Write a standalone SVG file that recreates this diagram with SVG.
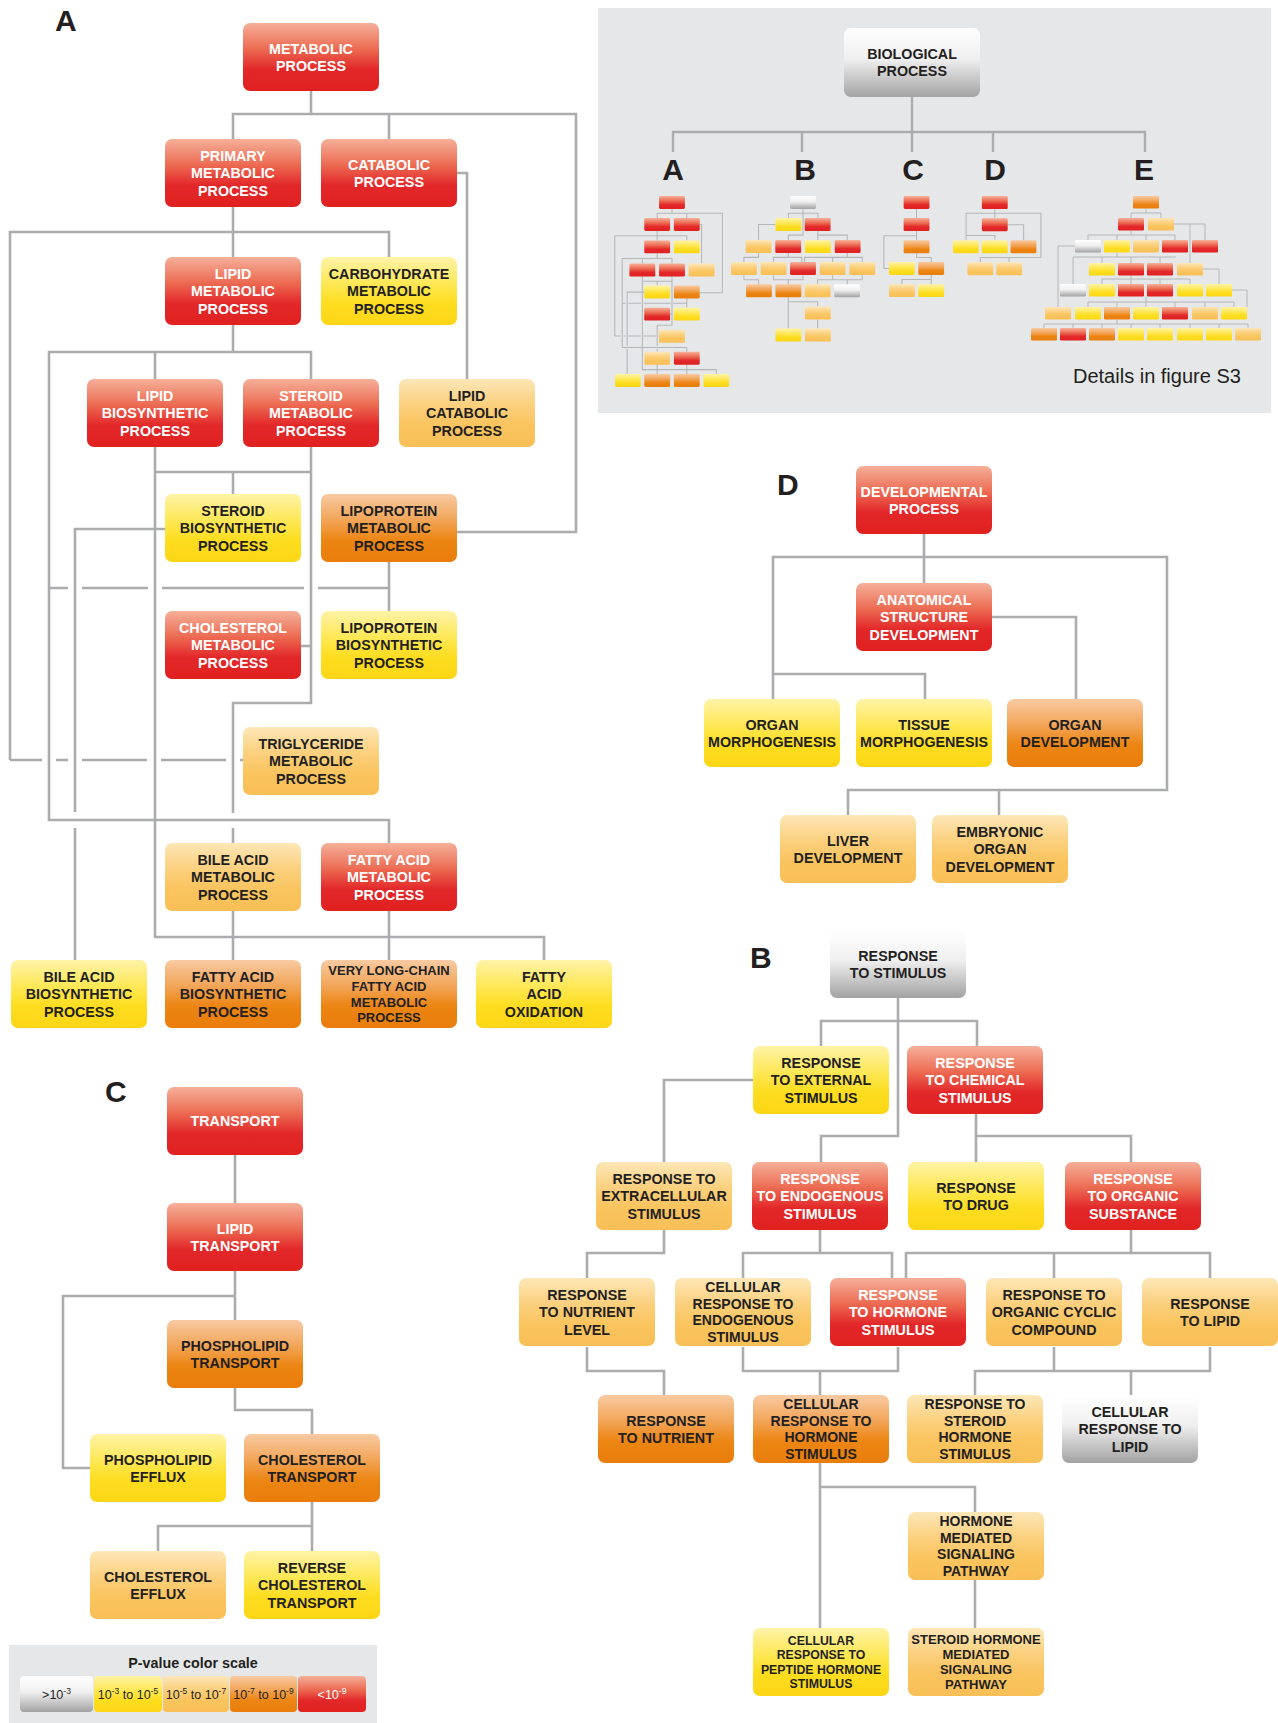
<svg xmlns="http://www.w3.org/2000/svg" width="1278" height="1723" viewBox="0 0 1278 1723">
<defs>
<linearGradient id="gRed" x1="0" y1="0" x2="0" y2="1"><stop offset="0" stop-color="#f5b09a"/><stop offset="0.38" stop-color="#ec6b52"/><stop offset="0.68" stop-color="#e3282a"/><stop offset="1" stop-color="#df211f"/></linearGradient>
<linearGradient id="gOrn" x1="0" y1="0" x2="0" y2="1"><stop offset="0" stop-color="#f8caa2"/><stop offset="0.38" stop-color="#f2a558"/><stop offset="0.68" stop-color="#ec8513"/><stop offset="1" stop-color="#e97d0b"/></linearGradient>
<linearGradient id="gLor" x1="0" y1="0" x2="0" y2="1"><stop offset="0" stop-color="#fde7b8"/><stop offset="0.38" stop-color="#fbd07e"/><stop offset="0.68" stop-color="#fac45e"/><stop offset="1" stop-color="#f9bf57"/></linearGradient>
<linearGradient id="gYel" x1="0" y1="0" x2="0" y2="1"><stop offset="0" stop-color="#fff3a8"/><stop offset="0.38" stop-color="#fee858"/><stop offset="0.68" stop-color="#fddd1f"/><stop offset="1" stop-color="#fcd616"/></linearGradient>
<linearGradient id="gGry" x1="0" y1="0" x2="0" y2="1"><stop offset="0" stop-color="#ffffff"/><stop offset="0.45" stop-color="#efefef"/><stop offset="1" stop-color="#a2a2a2"/></linearGradient>
</defs>
<style>
.red{fill:url(#gRed)} .orn{fill:url(#gOrn)} .lor{fill:url(#gLor)} .yel{fill:url(#gYel)} .gry{fill:url(#gGry)}
.t{font-family:"Liberation Sans",Arial,Helvetica,sans-serif;font-weight:bold;font-size:14.3px;text-anchor:middle;fill:#231f20}
.t.w{fill:#ffffff}
.t.f4{font-size:14px}
.t.f13{font-size:13px}
.t.f12{font-size:12.3px}
.lab{font-family:"Liberation Sans",Arial,Helvetica,sans-serif;font-weight:bold;font-size:30px;fill:#231f20}
.lab.c{text-anchor:middle}
.lg{font-family:"Liberation Sans",Arial,Helvetica,sans-serif;font-size:12.5px;text-anchor:middle;fill:#231f20}
.lgt{font-family:"Liberation Sans",Arial,Helvetica,sans-serif;font-weight:bold;font-size:14.3px;text-anchor:middle;fill:#231f20}
.det{font-family:"Liberation Sans",Arial,Helvetica,sans-serif;font-size:20px;fill:#231f20}
</style>
<rect width="1278" height="1723" fill="#ffffff"/>

<!-- overview panel -->
<g id="overview">
<rect x="598" y="8" width="673" height="405" fill="#e6e7e8"/>
<g id="ov-connectors" fill="none" stroke="#aaacae" stroke-width="2.4">
<path d="M912,97 V132"/>
<path d="M673,152 V132 H1145 V152"/>
<path d="M802,132 V152"/>
<path d="M912,132 V152"/>
<path d="M993,132 V152"/>
</g>
<g id="ov-biological"><rect class="gry" x="844" y="28" width="136" height="69" rx="7"/><text class="t"><tspan x="912" y="59">BIOLOGICAL</tspan><tspan x="912" y="76.4">PROCESS</tspan></text></g>
<text class="lab c" x="673" y="180">A</text>
<text class="lab c" x="805" y="180">B</text>
<text class="lab c" x="913" y="180">C</text>
<text class="lab c" x="995" y="180">D</text>
<text class="lab c" x="1144" y="180">E</text>
<text class="det" x="1073" y="383">Details in figure S3</text>

<g id="mini-a" transform="translate(612.9,191.6) scale(0.19)">
<use href="#conn-a" fill="none" stroke="#b4b6b8" stroke-width="5.5"/>
<g>
<rect class="red" x="243" y="23" width="136" height="68" rx="7"/><rect class="red" x="165" y="139" width="136" height="68" rx="7"/><rect class="red" x="321" y="139" width="136" height="68" rx="7"/><rect class="red" x="165" y="257" width="136" height="68" rx="7"/><rect class="red" x="87" y="379" width="136" height="68" rx="7"/><rect class="red" x="243" y="379" width="136" height="68" rx="7"/><rect class="red" x="165" y="611" width="136" height="68" rx="7"/><rect class="red" x="321" y="843" width="136" height="68" rx="7"/>
<rect class="yel" x="321" y="257" width="136" height="68" rx="7"/><rect class="yel" x="165" y="494" width="136" height="68" rx="7"/><rect class="yel" x="321" y="611" width="136" height="68" rx="7"/><rect class="yel" x="11" y="960" width="136" height="68" rx="7"/><rect class="yel" x="476" y="960" width="136" height="68" rx="7"/>
<rect class="lor" x="399" y="379" width="136" height="68" rx="7"/><rect class="lor" x="243" y="727" width="136" height="68" rx="7"/><rect class="lor" x="165" y="843" width="136" height="68" rx="7"/>
<rect class="orn" x="321" y="494" width="136" height="68" rx="7"/><rect class="orn" x="165" y="960" width="136" height="68" rx="7"/><rect class="orn" x="321" y="960" width="136" height="68" rx="7"/>
</g>
</g>
<g id="mini-b" transform="translate(632.4,19.3) scale(0.19)">
<use href="#conn-b" fill="none" stroke="#b4b6b8" stroke-width="5.5"/>
<g>
<rect class="gry" x="830" y="930" width="136" height="68" rx="7"/><rect class="gry" x="1062" y="1395" width="136" height="68" rx="7"/>
<rect class="yel" x="753" y="1046" width="136" height="68" rx="7"/><rect class="yel" x="908" y="1162" width="136" height="68" rx="7"/><rect class="yel" x="753" y="1628" width="136" height="68" rx="7"/>
<rect class="red" x="907" y="1046" width="136" height="68" rx="7"/><rect class="red" x="752" y="1162" width="136" height="68" rx="7"/><rect class="red" x="1065" y="1162" width="136" height="68" rx="7"/><rect class="red" x="830" y="1278" width="136" height="68" rx="7"/>
<rect class="lor" x="596" y="1162" width="136" height="68" rx="7"/><rect class="lor" x="519" y="1278" width="136" height="68" rx="7"/><rect class="lor" x="675" y="1278" width="136" height="68" rx="7"/><rect class="lor" x="986" y="1278" width="136" height="68" rx="7"/><rect class="lor" x="1142" y="1278" width="136" height="68" rx="7"/><rect class="lor" x="907" y="1395" width="136" height="68" rx="7"/><rect class="lor" x="908" y="1512" width="136" height="68" rx="7"/><rect class="lor" x="908" y="1628" width="136" height="68" rx="7"/>
<rect class="orn" x="598" y="1395" width="136" height="68" rx="7"/><rect class="orn" x="753" y="1395" width="136" height="68" rx="7"/>
</g>
</g>
<g id="mini-c" transform="translate(871.9,-10.5) scale(0.19)">
<use href="#conn-c" fill="none" stroke="#b4b6b8" stroke-width="5.5"/>
<g>
<rect class="red" x="167" y="1087" width="136" height="68" rx="7"/><rect class="red" x="167" y="1203" width="136" height="68" rx="7"/>
<rect class="orn" x="167" y="1320" width="136" height="68" rx="7"/><rect class="orn" x="244" y="1434" width="136" height="68" rx="7"/>
<rect class="yel" x="90" y="1434" width="136" height="68" rx="7"/><rect class="yel" x="244" y="1551" width="136" height="68" rx="7"/>
<rect class="lor" x="90" y="1551" width="136" height="68" rx="7"/>
</g>
</g>
<g id="mini-d" transform="translate(819.2,107.5) scale(0.19)">
<use href="#conn-d" fill="none" stroke="#b4b6b8" stroke-width="5.5"/>
<g>
<rect class="red" x="856" y="466" width="136" height="68" rx="7"/><rect class="red" x="856" y="583" width="136" height="68" rx="7"/>
<rect class="yel" x="704" y="699" width="136" height="68" rx="7"/><rect class="yel" x="856" y="699" width="136" height="68" rx="7"/>
<rect class="orn" x="1007" y="699" width="136" height="68" rx="7"/>
<rect class="lor" x="780" y="815" width="136" height="68" rx="7"/><rect class="lor" x="932" y="815" width="136" height="68" rx="7"/>
</g>
</g>
<g id="mini-e">
<g fill="none" stroke="#b4b6b8" stroke-width="1">
<path d="M1146,208.5 V213 M1131,218 V213 H1161 V218"/>
<path d="M1131,231 V235 M1088,240 V235 H1175 V240 M1117,235 V240 M1146,235 V240"/>
<path d="M1173,224 H1205 V240 M1190,224 V263"/>
<path d="M1073,284 V257 H1176 M1102,257 V263 M1131,257 V263 M1160,257 V263 M1117,253 V257"/>
<path d="M1075,246 H1058 V307"/>
<path d="M1131,275 V279 M1102,284 V279 H1190 V284 M1131,279 V284 M1160,279 V284 M1203,269 H1219 V284"/>
<path d="M1146,297 V302 M1088,307 V302 H1234 V307 M1117,302 V307 M1146,302 V307 M1175,302 V307 M1205,302 V307"/>
<path d="M1117,320 V324 M1044,328 V324 H1248 V328 M1073,324 V328 M1102,324 V328 M1131,324 V328 M1160,324 V328 M1190,324 V328 M1219,324 V328"/>
<path d="M1232,290 H1247 V307"/>
</g>
<g>
<rect class="orn" x="1133" y="196" width="26" height="12.5" rx="1.3"/>
<rect class="red" x="1118" y="218" width="26" height="12.5" rx="1.3"/><rect class="lor" x="1148" y="218" width="26" height="12.5" rx="1.3"/>
<rect class="gry" x="1075" y="240" width="26" height="12.5" rx="1.3"/><rect class="yel" x="1104" y="240" width="26" height="12.5" rx="1.3"/><rect class="lor" x="1133" y="240" width="26" height="12.5" rx="1.3"/><rect class="red" x="1162" y="240" width="26" height="12.5" rx="1.3"/><rect class="red" x="1192" y="240" width="26" height="12.5" rx="1.3"/>
<rect class="yel" x="1089" y="263" width="26" height="12.5" rx="1.3"/><rect class="red" x="1118" y="263" width="26" height="12.5" rx="1.3"/><rect class="red" x="1147" y="263" width="26" height="12.5" rx="1.3"/><rect class="lor" x="1177" y="263" width="26" height="12.5" rx="1.3"/>
<rect class="gry" x="1060" y="284" width="26" height="12.5" rx="1.3"/><rect class="yel" x="1089" y="284" width="26" height="12.5" rx="1.3"/><rect class="red" x="1118" y="284" width="26" height="12.5" rx="1.3"/><rect class="red" x="1147" y="284" width="26" height="12.5" rx="1.3"/><rect class="yel" x="1177" y="284" width="26" height="12.5" rx="1.3"/><rect class="yel" x="1206" y="284" width="26" height="12.5" rx="1.3"/>
<rect class="lor" x="1045" y="307" width="26" height="12.5" rx="1.3"/><rect class="yel" x="1075" y="307" width="26" height="12.5" rx="1.3"/><rect class="orn" x="1104" y="307" width="26" height="12.5" rx="1.3"/><rect class="yel" x="1133" y="307" width="26" height="12.5" rx="1.3"/><rect class="red" x="1162" y="307" width="26" height="12.5" rx="1.3"/><rect class="lor" x="1192" y="307" width="26" height="12.5" rx="1.3"/><rect class="yel" x="1221" y="307" width="26" height="12.5" rx="1.3"/>
<rect class="orn" x="1031" y="328" width="26" height="12.5" rx="1.3"/><rect class="red" x="1060" y="328" width="26" height="12.5" rx="1.3"/><rect class="orn" x="1089" y="328" width="26" height="12.5" rx="1.3"/><rect class="yel" x="1118" y="328" width="26" height="12.5" rx="1.3"/><rect class="yel" x="1147" y="328" width="26" height="12.5" rx="1.3"/><rect class="yel" x="1177" y="328" width="26" height="12.5" rx="1.3"/><rect class="yel" x="1206" y="328" width="26" height="12.5" rx="1.3"/><rect class="lor" x="1235" y="328" width="26" height="12.5" rx="1.3"/>
</g>
</g>
</g>

<!-- connectors -->
<g id="connectors" fill="none" stroke="#aaacae" stroke-width="2.6">
<g id="conn-a">
<path d="M311,91 V114"/>
<path d="M233,139 V114 H576 V532 H456"/>
<path d="M389,114 V139"/>
<path d="M233,207 V257"/>
<path d="M10,760 V232 H389 V257"/>
<path d="M10,760 H42 M56,760 H68 M82,760 H147 M161,760 H226 M240,760 H243"/>
<path d="M457,173 H467 V379"/>
<path d="M233,325 V352"/>
<path d="M311,379 V352 H49 V820 H389 V843"/>
<path d="M155,352 V379"/>
<path d="M155,447 V937 H544 V960"/>
<path d="M155,472 H311"/>
<path d="M233,472 V494"/>
<path d="M311,447 V703 H233 V813 M233,828 V843"/>
<path d="M301,646 H311"/>
<path d="M166,529 H75 V812 M75,828 V960"/>
<path d="M389,562 V611"/>
<path d="M49,588 H68 M82,588 H148 M162,588 H304 M318,588 H389"/>
<path d="M233,911 V960"/>
<path d="M389,911 V960"/>
</g>
<g id="conn-d">
<path d="M924,533 V583"/>
<path d="M773,699 V557 H1167 V790 H848 V815"/>
<path d="M999,790 V815"/>
<path d="M773,674 H925 V699"/>
<path d="M992,617 H1076 V699"/>
</g>
<g id="conn-b">
<path d="M898,998 V1136 H821 V1162"/>
<path d="M821,1046 V1021 H977 V1046"/>
<path d="M753,1080 H664 V1162"/>
<path d="M976,1113 V1162"/>
<path d="M976,1136 H1131 V1162"/>
<path d="M664,1230 V1253 H587 V1278"/>
<path d="M820,1230 V1253"/>
<path d="M743,1278 V1253 H892 V1278"/>
<path d="M1131,1230 V1253"/>
<path d="M906,1278 V1253 H1210 V1278"/>
<path d="M1054,1253 V1278"/>
<path d="M587,1347 V1371 H664 V1395"/>
<path d="M743,1347 V1371 H898 V1347"/>
<path d="M820,1371 V1395"/>
<path d="M1054,1347 V1371"/>
<path d="M975,1395 V1371 H1210 V1347"/>
<path d="M1131,1371 V1395"/>
<path d="M820,1463 V1628"/>
<path d="M820,1487 H975 V1512"/>
<path d="M975,1580 V1628"/>
</g>
<g id="conn-c">
<path d="M235,1155 V1203"/>
<path d="M235,1271 V1320"/>
<path d="M235,1296 H63 V1468 H90"/>
<path d="M235,1388 V1410 H312 V1434"/>
<path d="M312,1502 V1551"/>
<path d="M312,1526 H158 V1551"/>
</g>
</g>

<!-- panel labels -->
<text class="lab" x="55" y="31">A</text>
<text class="lab" x="777" y="495">D</text>
<text class="lab" x="750" y="968">B</text>
<text class="lab" x="105" y="1102">C</text>

<!-- panel A nodes -->
<g id="a-metabolic"><rect class="red" x="243" y="23" width="136" height="68" rx="7"/><text class="t w"><tspan x="311" y="53.5">METABOLIC</tspan><tspan x="311" y="70.9">PROCESS</tspan></text></g>
<g id="a-primary"><rect class="red" x="165" y="139" width="136" height="68" rx="7"/><text class="t w"><tspan x="233" y="160.8">PRIMARY</tspan><tspan x="233" y="178.2">METABOLIC</tspan><tspan x="233" y="195.6">PROCESS</tspan></text></g>
<g id="a-catabolic"><rect class="red" x="321" y="139" width="136" height="68" rx="7"/><text class="t w"><tspan x="389" y="169.5">CATABOLIC</tspan><tspan x="389" y="186.9">PROCESS</tspan></text></g>
<g id="a-lipidmet"><rect class="red" x="165" y="257" width="136" height="68" rx="7"/><text class="t w"><tspan x="233" y="278.8">LIPID</tspan><tspan x="233" y="296.2">METABOLIC</tspan><tspan x="233" y="313.6">PROCESS</tspan></text></g>
<g id="a-carbo"><rect class="yel" x="321" y="257" width="136" height="68" rx="7"/><text class="t"><tspan x="389" y="278.8">CARBOHYDRATE</tspan><tspan x="389" y="296.2">METABOLIC</tspan><tspan x="389" y="313.6">PROCESS</tspan></text></g>
<g id="a-lipidbio"><rect class="red" x="87" y="379" width="136" height="68" rx="7"/><text class="t w"><tspan x="155" y="400.8">LIPID</tspan><tspan x="155" y="418.2">BIOSYNTHETIC</tspan><tspan x="155" y="435.6">PROCESS</tspan></text></g>
<g id="a-steroidmet"><rect class="red" x="243" y="379" width="136" height="68" rx="7"/><text class="t w"><tspan x="311" y="400.8">STEROID</tspan><tspan x="311" y="418.2">METABOLIC</tspan><tspan x="311" y="435.6">PROCESS</tspan></text></g>
<g id="a-lipidcat"><rect class="lor" x="399" y="379" width="136" height="68" rx="7"/><text class="t"><tspan x="467" y="400.8">LIPID</tspan><tspan x="467" y="418.2">CATABOLIC</tspan><tspan x="467" y="435.6">PROCESS</tspan></text></g>
<g id="a-steroidbio"><rect class="yel" x="165" y="494" width="136" height="68" rx="7"/><text class="t"><tspan x="233" y="515.8">STEROID</tspan><tspan x="233" y="533.2">BIOSYNTHETIC</tspan><tspan x="233" y="550.6">PROCESS</tspan></text></g>
<g id="a-lipoprotmet"><rect class="orn" x="321" y="494" width="136" height="68" rx="7"/><text class="t"><tspan x="389" y="515.8">LIPOPROTEIN</tspan><tspan x="389" y="533.2">METABOLIC</tspan><tspan x="389" y="550.6">PROCESS</tspan></text></g>
<g id="a-cholesterol"><rect class="red" x="165" y="611" width="136" height="68" rx="7"/><text class="t w"><tspan x="233" y="632.8">CHOLESTEROL</tspan><tspan x="233" y="650.2">METABOLIC</tspan><tspan x="233" y="667.6">PROCESS</tspan></text></g>
<g id="a-lipoprotbio"><rect class="yel" x="321" y="611" width="136" height="68" rx="7"/><text class="t"><tspan x="389" y="632.8">LIPOPROTEIN</tspan><tspan x="389" y="650.2">BIOSYNTHETIC</tspan><tspan x="389" y="667.6">PROCESS</tspan></text></g>
<g id="a-triglyceride"><rect class="lor" x="243" y="727" width="136" height="68" rx="7"/><text class="t"><tspan x="311" y="748.8">TRIGLYCERIDE</tspan><tspan x="311" y="766.2">METABOLIC</tspan><tspan x="311" y="783.6">PROCESS</tspan></text></g>
<g id="a-bileacidmet"><rect class="lor" x="165" y="843" width="136" height="68" rx="7"/><text class="t"><tspan x="233" y="864.8">BILE ACID</tspan><tspan x="233" y="882.2">METABOLIC</tspan><tspan x="233" y="899.6">PROCESS</tspan></text></g>
<g id="a-fattyacidmet"><rect class="red" x="321" y="843" width="136" height="68" rx="7"/><text class="t w"><tspan x="389" y="864.8">FATTY ACID</tspan><tspan x="389" y="882.2">METABOLIC</tspan><tspan x="389" y="899.6">PROCESS</tspan></text></g>
<g id="a-bileacidbio"><rect class="yel" x="11" y="960" width="136" height="68" rx="7"/><text class="t"><tspan x="79" y="981.8">BILE ACID</tspan><tspan x="79" y="999.2">BIOSYNTHETIC</tspan><tspan x="79" y="1016.6">PROCESS</tspan></text></g>
<g id="a-fattyacidbio"><rect class="orn" x="165" y="960" width="136" height="68" rx="7"/><text class="t"><tspan x="233" y="981.8">FATTY ACID</tspan><tspan x="233" y="999.2">BIOSYNTHETIC</tspan><tspan x="233" y="1016.6">PROCESS</tspan></text></g>
<g id="a-verylong"><rect class="orn" x="321" y="960" width="136" height="68" rx="7"/><text class="t f13"><tspan x="389" y="975.2">VERY LONG-CHAIN</tspan><tspan x="389" y="990.9">FATTY ACID</tspan><tspan x="389" y="1006.6">METABOLIC</tspan><tspan x="389" y="1022.3">PROCESS</tspan></text></g>
<g id="a-fattyox"><rect class="yel" x="476" y="960" width="136" height="68" rx="7"/><text class="t"><tspan x="544" y="981.8">FATTY</tspan><tspan x="544" y="999.2">ACID</tspan><tspan x="544" y="1016.6">OXIDATION</tspan></text></g>

<!-- panel D nodes -->
<g id="d-developmental"><rect class="red" x="856" y="466" width="136" height="68" rx="7"/><text class="t w"><tspan x="924" y="496.5">DEVELOPMENTAL</tspan><tspan x="924" y="513.9">PROCESS</tspan></text></g>
<g id="d-anatomical"><rect class="red" x="856" y="583" width="136" height="68" rx="7"/><text class="t w"><tspan x="924" y="604.8">ANATOMICAL</tspan><tspan x="924" y="622.2">STRUCTURE</tspan><tspan x="924" y="639.6">DEVELOPMENT</tspan></text></g>
<g id="d-organmorph"><rect class="yel" x="704" y="699" width="136" height="68" rx="7"/><text class="t"><tspan x="772" y="729.5">ORGAN</tspan><tspan x="772" y="746.9">MORPHOGENESIS</tspan></text></g>
<g id="d-tissue"><rect class="yel" x="856" y="699" width="136" height="68" rx="7"/><text class="t"><tspan x="924" y="729.5">TISSUE</tspan><tspan x="924" y="746.9">MORPHOGENESIS</tspan></text></g>
<g id="d-organdev"><rect class="orn" x="1007" y="699" width="136" height="68" rx="7"/><text class="t"><tspan x="1075" y="729.5">ORGAN</tspan><tspan x="1075" y="746.9">DEVELOPMENT</tspan></text></g>
<g id="d-liver"><rect class="lor" x="780" y="815" width="136" height="68" rx="7"/><text class="t"><tspan x="848" y="845.5">LIVER</tspan><tspan x="848" y="862.9">DEVELOPMENT</tspan></text></g>
<g id="d-embryonic"><rect class="lor" x="932" y="815" width="136" height="68" rx="7"/><text class="t"><tspan x="1000" y="836.8">EMBRYONIC</tspan><tspan x="1000" y="854.2">ORGAN</tspan><tspan x="1000" y="871.6">DEVELOPMENT</tspan></text></g>

<!-- panel B nodes -->
<g id="b-stimulus"><rect class="gry" x="830" y="930" width="136" height="68" rx="7"/><text class="t"><tspan x="898" y="960.5">RESPONSE</tspan><tspan x="898" y="977.9">TO STIMULUS</tspan></text></g>
<g id="b-external"><rect class="yel" x="753" y="1046" width="136" height="68" rx="7"/><text class="t"><tspan x="821" y="1067.8">RESPONSE</tspan><tspan x="821" y="1085.2">TO EXTERNAL</tspan><tspan x="821" y="1102.6">STIMULUS</tspan></text></g>
<g id="b-chemical"><rect class="red" x="907" y="1046" width="136" height="68" rx="7"/><text class="t w"><tspan x="975" y="1067.8">RESPONSE</tspan><tspan x="975" y="1085.2">TO CHEMICAL</tspan><tspan x="975" y="1102.6">STIMULUS</tspan></text></g>
<g id="b-extracellular"><rect class="lor" x="596" y="1162" width="136" height="68" rx="7"/><text class="t"><tspan x="664" y="1183.8">RESPONSE TO</tspan><tspan x="664" y="1201.2">EXTRACELLULAR</tspan><tspan x="664" y="1218.6">STIMULUS</tspan></text></g>
<g id="b-endogenous"><rect class="red" x="752" y="1162" width="136" height="68" rx="7"/><text class="t w"><tspan x="820" y="1183.8">RESPONSE</tspan><tspan x="820" y="1201.2">TO ENDOGENOUS</tspan><tspan x="820" y="1218.6">STIMULUS</tspan></text></g>
<g id="b-drug"><rect class="yel" x="908" y="1162" width="136" height="68" rx="7"/><text class="t"><tspan x="976" y="1192.5">RESPONSE</tspan><tspan x="976" y="1209.9">TO DRUG</tspan></text></g>
<g id="b-organicsub"><rect class="red" x="1065" y="1162" width="136" height="68" rx="7"/><text class="t w"><tspan x="1133" y="1183.8">RESPONSE</tspan><tspan x="1133" y="1201.2">TO ORGANIC</tspan><tspan x="1133" y="1218.6">SUBSTANCE</tspan></text></g>
<g id="b-nutrientlevel"><rect class="lor" x="519" y="1278" width="136" height="68" rx="7"/><text class="t"><tspan x="587" y="1299.8">RESPONSE</tspan><tspan x="587" y="1317.2">TO NUTRIENT</tspan><tspan x="587" y="1334.6">LEVEL</tspan></text></g>
<g id="b-cellendo"><rect class="lor" x="675" y="1278" width="136" height="68" rx="7"/><text class="t f4"><tspan x="743" y="1292.2">CELLULAR</tspan><tspan x="743" y="1308.8">RESPONSE TO</tspan><tspan x="743" y="1325.4">ENDOGENOUS</tspan><tspan x="743" y="1342">STIMULUS</tspan></text></g>
<g id="b-hormone"><rect class="red" x="830" y="1278" width="136" height="68" rx="7"/><text class="t w"><tspan x="898" y="1299.8">RESPONSE</tspan><tspan x="898" y="1317.2">TO HORMONE</tspan><tspan x="898" y="1334.6">STIMULUS</tspan></text></g>
<g id="b-organiccyclic"><rect class="lor" x="986" y="1278" width="136" height="68" rx="7"/><text class="t"><tspan x="1054" y="1299.8">RESPONSE TO</tspan><tspan x="1054" y="1317.2">ORGANIC CYCLIC</tspan><tspan x="1054" y="1334.6">COMPOUND</tspan></text></g>
<g id="b-lipid"><rect class="lor" x="1142" y="1278" width="136" height="68" rx="7"/><text class="t"><tspan x="1210" y="1308.5">RESPONSE</tspan><tspan x="1210" y="1325.9">TO LIPID</tspan></text></g>
<g id="b-nutrient"><rect class="orn" x="598" y="1395" width="136" height="68" rx="7"/><text class="t"><tspan x="666" y="1425.5">RESPONSE</tspan><tspan x="666" y="1442.9">TO NUTRIENT</tspan></text></g>
<g id="b-cellhormone"><rect class="orn" x="753" y="1395" width="136" height="68" rx="7"/><text class="t f4"><tspan x="821" y="1409.2">CELLULAR</tspan><tspan x="821" y="1425.8">RESPONSE TO</tspan><tspan x="821" y="1442.4">HORMONE</tspan><tspan x="821" y="1459">STIMULUS</tspan></text></g>
<g id="b-steroidstim"><rect class="lor" x="907" y="1395" width="136" height="68" rx="7"/><text class="t f4"><tspan x="975" y="1409.2">RESPONSE TO</tspan><tspan x="975" y="1425.8">STEROID</tspan><tspan x="975" y="1442.4">HORMONE</tspan><tspan x="975" y="1459">STIMULUS</tspan></text></g>
<g id="b-celllipid"><rect class="gry" x="1062" y="1395" width="136" height="68" rx="7"/><text class="t"><tspan x="1130" y="1416.8">CELLULAR</tspan><tspan x="1130" y="1434.2">RESPONSE TO</tspan><tspan x="1130" y="1451.6">LIPID</tspan></text></g>
<g id="b-hormonemed"><rect class="lor" x="908" y="1512" width="136" height="68" rx="7"/><text class="t f4"><tspan x="976" y="1526.2">HORMONE</tspan><tspan x="976" y="1542.8">MEDIATED</tspan><tspan x="976" y="1559.4">SIGNALING</tspan><tspan x="976" y="1576">PATHWAY</tspan></text></g>
<g id="b-peptide"><rect class="yel" x="753" y="1628" width="136" height="68" rx="7"/><text class="t f12"><tspan x="821" y="1644.9">CELLULAR</tspan><tspan x="821" y="1659.3">RESPONSE TO</tspan><tspan x="821" y="1673.7">PEPTIDE HORMONE</tspan><tspan x="821" y="1688.1">STIMULUS</tspan></text></g>
<g id="b-steroidmed"><rect class="lor" x="908" y="1628" width="136" height="68" rx="7"/><text class="t f13"><tspan x="976" y="1644.2">STEROID HORMONE</tspan><tspan x="976" y="1659.2">MEDIATED</tspan><tspan x="976" y="1674.2">SIGNALING</tspan><tspan x="976" y="1689.2">PATHWAY</tspan></text></g>

<!-- panel C nodes -->
<g id="c-transport"><rect class="red" x="167" y="1087" width="136" height="68" rx="7"/><text class="t w"><tspan x="235" y="1126.2">TRANSPORT</tspan></text></g>
<g id="c-lipidtransport"><rect class="red" x="167" y="1203" width="136" height="68" rx="7"/><text class="t w"><tspan x="235" y="1233.5">LIPID</tspan><tspan x="235" y="1250.9">TRANSPORT</tspan></text></g>
<g id="c-phosphotransport"><rect class="orn" x="167" y="1320" width="136" height="68" rx="7"/><text class="t"><tspan x="235" y="1350.5">PHOSPHOLIPID</tspan><tspan x="235" y="1367.9">TRANSPORT</tspan></text></g>
<g id="c-phosphoefflux"><rect class="yel" x="90" y="1434" width="136" height="68" rx="7"/><text class="t"><tspan x="158" y="1464.5">PHOSPHOLIPID</tspan><tspan x="158" y="1481.9">EFFLUX</tspan></text></g>
<g id="c-choltransport"><rect class="orn" x="244" y="1434" width="136" height="68" rx="7"/><text class="t"><tspan x="312" y="1464.5">CHOLESTEROL</tspan><tspan x="312" y="1481.9">TRANSPORT</tspan></text></g>
<g id="c-cholefflux"><rect class="lor" x="90" y="1551" width="136" height="68" rx="7"/><text class="t"><tspan x="158" y="1581.5">CHOLESTEROL</tspan><tspan x="158" y="1598.9">EFFLUX</tspan></text></g>
<g id="c-reverse"><rect class="yel" x="244" y="1551" width="136" height="68" rx="7"/><text class="t"><tspan x="312" y="1572.8">REVERSE</tspan><tspan x="312" y="1590.2">CHOLESTEROL</tspan><tspan x="312" y="1607.6">TRANSPORT</tspan></text></g>

<!-- legend -->
<g id="legend">
<rect x="9" y="1645" width="368" height="78" fill="#e6e7e8"/>
<text class="lgt" x="193" y="1668">P-value color scale</text>
<rect class="gry" x="20" y="1676" width="73" height="36" rx="4"/>
<rect class="yel" x="94" y="1676" width="68" height="36" rx="4"/>
<rect class="lor" x="163" y="1676" width="66" height="36" rx="4"/>
<rect class="orn" x="230" y="1676" width="67" height="36" rx="4"/>
<rect class="red" x="298" y="1676" width="68" height="36" rx="4"/>
<text class="lg" x="56.5" y="1699">&gt;10<tspan dy="-5" font-size="8.5">-3</tspan></text>
<text class="lg" x="128" y="1699">10<tspan dy="-5" font-size="8.5">-3</tspan><tspan dy="5"> to 10</tspan><tspan dy="-5" font-size="8.5">-5</tspan></text>
<text class="lg" x="196" y="1699">10<tspan dy="-5" font-size="8.5">-5</tspan><tspan dy="5"> to 10</tspan><tspan dy="-5" font-size="8.5">-7</tspan></text>
<text class="lg" x="263.5" y="1699">10<tspan dy="-5" font-size="8.5">-7</tspan><tspan dy="5"> to 10</tspan><tspan dy="-5" font-size="8.5">-9</tspan></text>
<text class="lg" x="332" y="1699" fill="#ffffff" style="fill:#ffffff">&lt;10<tspan dy="-5" font-size="8.5">-9</tspan></text>
</g>
</svg>
